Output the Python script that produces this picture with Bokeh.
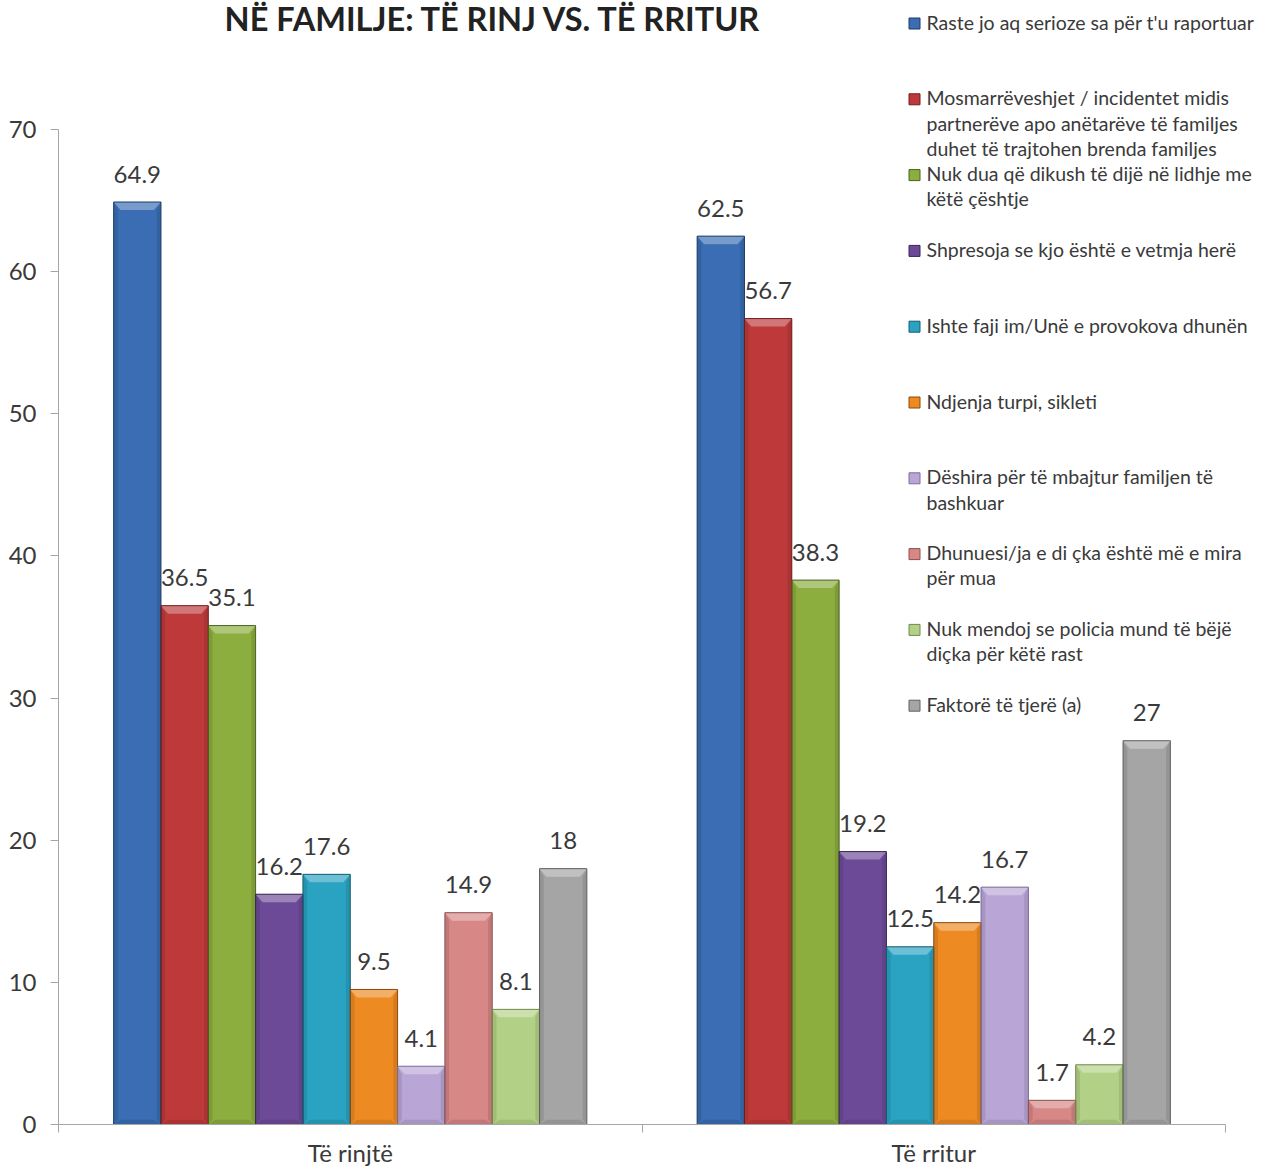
import numpy as np
import pandas as pd
from bokeh.plotting import figure
from bokeh.models import Range1d, FixedTicker, ColumnDataSource, Label
from bokeh.embed import file_html
from bokeh.resources import INLINE
from bokeh.core.properties import value

# ---------------- data ----------------
title = "NË FAMILJE: TË RINJ VS. TË RRITUR"
groups = ["Të rinjtë", "Të rritur"]
series = [
    "Raste jo aq serioze sa për t'u raportuar",
    "Mosmarrëveshjet / incidentet midis\npartnerëve apo anëtarëve të familjes\nduhet të trajtohen brenda familjes",
    "Nuk dua që dikush të dijë në lidhje me\nkëtë çështje",
    "Shpresoja se kjo është e vetmja herë",
    "Ishte faji im/Unë e provokova dhunën",
    "Ndjenja turpi, sikleti",
    "Dëshira për të mbajtur familjen të\nbashkuar",
    "Dhunuesi/ja e di çka është më e mira\npër mua",
    "Nuk mendoj se policia mund të bëjë\ndiçka për këtë rast",
    "Faktorë të tjerë (a)",
]
young = [64.9, 36.5, 35.1, 16.2, 17.6, 9.5, 4.1, 14.9, 8.1, 18]
adult = [62.5, 56.7, 38.3, 19.2, 12.5, 14.2, 16.7, 1.7, 4.2, 27]
y_ticks = [0, 10, 20, 30, 40, 50, 60, 70]

# ---------------- styles ----------------
fills = ["#3A6DB3", "#BE3A3A", "#8BAE3E", "#6D4A97", "#2AA2C2",
         "#EE8A22", "#B9A6D6", "#D68786", "#B3D186", "#A5A5A5"]
edges = ["#1E3A66", "#6E1E1E", "#4C6220", "#3A2556", "#155E70",
         "#8A4A0E", "#7C6C99", "#8E5050", "#708A4E", "#606060"]


def mix(h, f, t=255):
    r, g, b = int(h[1:3], 16), int(h[3:5], 16), int(h[5:7], 16)
    r, g, b = [int(c + (t - c) * f) for c in (r, g, b)]
    return "#%02x%02x%02x" % (r, g, b)


FONT = "Lato"
TXT = "#3a3a3a"
AX = "#A6A6A6"

W, H = 1265, 1169
BL = 58          # left border (frame left edge)
BB = 45          # bottom border
AXIS_PX = H - BB  # frame bottom in page pixels
px_x = 583.5     # pixels per group unit
px_y = 14.214    # pixels per value unit
bw = 0.0811      # bar width in group units

y_end = AXIS_PX / px_y
x_end = 0.5 + (W - BL) / px_x


def dx_(px):
    return 0.5 + (px - BL) / px_x


def dy_(py):
    return (AXIS_PX - py) / px_y


p = figure(width=W, height=H, x_range=Range1d(0.5, x_end), y_range=Range1d(0, y_end),
           output_backend="svg", toolbar_location=None,
           min_border_left=BL, min_border_right=0, min_border_top=0, min_border_bottom=BB)
p.outline_line_color = None
p.xgrid.visible = False
p.ygrid.visible = False
p.background_fill_color = "white"
p.border_fill_color = "white"

# bars
rows = []
for gi, vals in enumerate([young, adult]):
    center = gi + 1
    for i, v in enumerate(vals):
        rows.append(dict(x=center + (i - 4.5) * bw, top=v, fill=fills[i], edge=edges[i],
                         light=mix(fills[i], 0.35), dark=mix(fills[i], 0.22, 0),
                         lab=f"{v:g}"))
df = pd.DataFrame(rows)
src = ColumnDataSource(df)

p.vbar(x="x", top="top", bottom=0, width=bw, source=src, fill_color="fill",
       line_color=None)

# bevel faces: top (light), sides and bottom (darker)
ddx = 7 / px_x
ddy = 8 / px_y
txs, tys, sxs, sys_, sfill = [], [], [], [], []
for x, t, dk in zip(df.x, df.top, df.dark):
    l, r = x - bw / 2, x + bw / 2
    h = min(ddy, t * 0.45)
    txs.append([l, r, r - ddx, l + ddx])
    tys.append([t, t, t - h, t - h])
    # left side
    sxs.append([l, l + ddx * 0.6, l + ddx * 0.6, l])
    sys_.append([t, t - h, h * 0.6, 0])
    sfill.append(dk)
    # right side
    sxs.append([r, r - ddx * 0.6, r - ddx * 0.6, r])
    sys_.append([t, t - h, h * 0.6, 0])
    sfill.append(dk)
    # bottom
    sxs.append([l, r, r - ddx, l + ddx])
    sys_.append([0, 0, h * 0.6, h * 0.6])
    sfill.append(dk)
p.patches(sxs, sys_, fill_color=sfill, line_color=None, fill_alpha=0.45)
p.patches(txs, tys, fill_color=list(df.light), line_color=None, fill_alpha=0.9)
p.vbar(x="x", top="top", bottom=0, width=bw, source=src, fill_color=None,
       line_color="edge", line_width=1)

# value labels
p.text(x="x", y="top", text="lab", source=src, text_align="center",
       text_baseline="alphabetic", y_offset=-28, text_font=value(FONT),
       text_font_size="24px", text_color=TXT)

# axes
ya = p.yaxis[0]
ya.ticker = FixedTicker(ticks=y_ticks, minor_ticks=[])
ya.bounds = (0, 70)
ya.axis_line_color = AX
ya.major_tick_line_color = AX
ya.major_tick_out = 8
ya.major_tick_in = 0
ya.minor_tick_out = 0
ya.major_label_standoff = 14
ya.major_label_text_font = FONT
ya.major_label_text_font_size = "24px"
ya.major_label_text_color = TXT

xa = p.xaxis[0]
xa.ticker = FixedTicker(ticks=[1, 2], minor_ticks=[0.5, 1.5, 2.5])
xa.bounds = (0.5, 2.5)
xa.axis_line_color = AX
xa.major_tick_out = 0
xa.major_tick_in = 0
xa.minor_tick_out = 8
xa.minor_tick_in = 0
xa.minor_tick_line_color = AX
xa.major_label_overrides = {1: groups[0], 2: groups[1]}
xa.major_label_standoff = 5
xa.major_label_text_font = FONT
xa.major_label_text_font_size = "24px"
xa.major_label_text_color = TXT

# title
p.add_layout(Label(x=dx_(493), y=dy_(18), text=title,
                   text_align="center", text_baseline="middle", text_font=FONT,
                   text_font_style="bold", text_font_size="32.5px", text_color="#222222"))

# legend (manual, to match the variable wrapped layout)
n = len(series)
ly = [dy_(23 + 75.8 * i) for i in range(n)]
leg = ColumnDataSource(dict(xm=[dx_(914)] * n, xt=[dx_(926)] * n, y=ly,
                            yt=[v + 13 / px_y for v in ly], lab=series,
                            fill=fills, edge=edges))
p.scatter(x="xm", y="y", source=leg, marker="square", size=11, fill_color="fill",
          line_color="edge")
p.text(x="xt", y="yt", text="lab", source=leg, text_align="left", text_baseline="top",
       text_font=value(FONT), text_font_size="19.5px", text_color=TXT,
       text_line_height=1.1)

open("out.html", "w").write(file_html(p, INLINE))
